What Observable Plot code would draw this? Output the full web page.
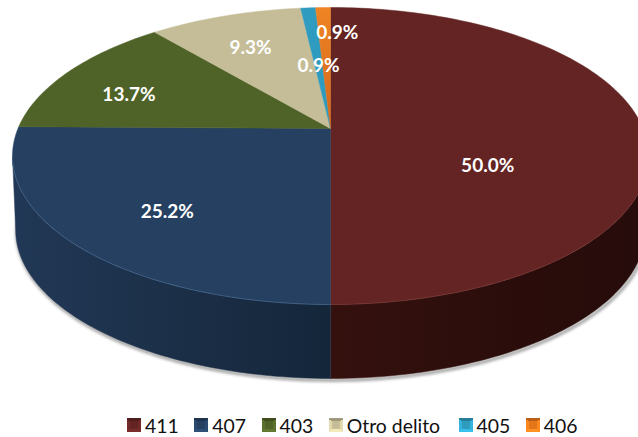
<!DOCTYPE html>
<html>
<head>
<meta charset="utf-8">
<script src="https://cdn.jsdelivr.net/npm/d3@7"></script>
<script src="https://cdn.jsdelivr.net/npm/@observablehq/plot@0.6"></script>
<style>
html,body{margin:0;padding:0;background:#fff}
#chart svg{display:block}
#legend{display:flex;height:32px;align-items:center;padding-left:127px;gap:15.5px;font:19.4px Lato,Carlito,sans-serif;color:#111;box-sizing:border-box;padding-top:8px;white-space:nowrap}
#legend .item{display:flex;align-items:center;gap:4px}
#legend .item:nth-child(4){margin-right:3px}
#legend .sw{width:14px;height:14px;display:block}
</style>
</head>
<body>
<div id="chart"></div>
<div id="legend"></div>
<script>
const categories = ["411", "407", "403", "Otro delito", "405", "406"];
const shares = [50.0, 25.2, 13.7, 9.3, 0.9, 0.9];
const labels = ["50.0%", "25.2%", "13.7%", "9.3%", "0.9%", "0.9%"];
const topColors = ["#632423", "#254061", "#4f6228", "#c4bd97", "#2f9bbf", "url(#orangeTop)"];
const rimColors = ["#7d3a38", "#4a6d96", "#667d3a", "#d6d0b0", "#55b4d2", "#f09a4a"];
const sideColors = ["url(#redSide)", "url(#blueSide)", "#38461c", "#8c8769", "#1f6c85", "#a64f08"];
const swatchColors = ["#632423", "#254061", "#4f6228", "#c4bd97", "#2f9bbf", "#e4761a"];

// Layout of the drawing (unit pie coordinates), separate from the data
const tilt = 0.1852, depth = 0.516, baseScale = 0.99;
const labelPlace = [[0.503, 0.258], [-0.522, 0.579], [-0.645, -0.237], [-0.256, -0.565], [0.022, -0.669], [-0.038, -0.439]];

// Perspective view of a circle: fraction of the pie -> unit coordinates
function rim(f, scale = 1, dy = 0) {
  const t = 2 * Math.PI * f / 100, u = Math.sin(t), v = -Math.cos(t), w = 1 - tilt * v;
  return {x: scale * u / w, y: v / w + dy};
}
// Silhouette limits of the disc: the wall is only visible between them
const edgeR = 100 * (Math.PI - Math.acos(tilt)) / (2 * Math.PI);
const edgeL = 100 - edgeR;

const arcs = [];
let acc = 0;
shares.forEach((s, i) => { arcs.push({i, a: acc, b: acc + s}); acc += s; });
const steps = s => Math.max(2, Math.ceil(s * 3));
const arcPts = (a, b, scale, dy) => d3.range(steps(b - a) + 1).map(k => rim(a + (b - a) * k / steps(b - a), scale, dy));

const topRows = [], sideRows = [], rimRows = [];
for (const {i, a, b} of arcs) {
  topRows.push({k: i, x: 0, y: 0}, ...arcPts(a, b).map(p => ({k: i, ...p})), {k: i, x: 0, y: 0});
  const a2 = Math.max(a, edgeR), b2 = Math.min(b, edgeL);
  if (b2 > a2) {
    sideRows.push(...arcPts(a2, b2).map(p => ({k: i, ...p})), ...arcPts(a2, b2, baseScale, depth).reverse().map(p => ({k: i, ...p})));
    rimRows.push(...arcPts(a2, b2).map(p => ({k: i, ...p})));
  }
}
const shadowRows = arcPts(edgeR - 4, edgeL + 4, baseScale, depth);
const labelRows = labels.map((t, i) => ({t, x: labelPlace[i][0], y: labelPlace[i][1]}));

const defs = () => {
  const s = d3.create("svg:defs");
  const grad = (id, x2, y2, stops) => {
    const g = s.append("linearGradient").attr("id", id).attr("x1", 0).attr("y1", 0).attr("x2", x2).attr("y2", y2);
    stops.forEach(([o, c]) => g.append("stop").attr("offset", o).attr("stop-color", c));
  };
  grad("orangeTop", 0, 1, [[0, "#ef8424"], [1, "#d3661a"]]);
  grad("blueSide", 1, 0, [[0, "#213856"], [0.45, "#1c3049"], [1, "#14263a"]]);
  grad("redSide", 1, 0, [[0, "#35110e"], [0.6, "#2a0d0b"], [1, "#260c0b"]]);
  return s.node();
};

const chart = Plot.plot({
  width: 638,
  height: 405,
  margin: 0,
  x: {domain: [-1, 1], range: [17.5, 642.5], axis: null},
  y: {domain: [-1, 1], range: [-15.4, 271.4], axis: null},
  marks: [
    defs,
    Plot.line(shadowRows, {x: d => d.x + 0.004, y: d => d.y + 0.012, stroke: "#555", strokeWidth: 3, strokeOpacity: 0.6, imageFilter: "blur(1.5px)"}),
    Plot.line(sideRows, {x: "x", y: "y", z: "k", fill: d => sideColors[d.k], stroke: d => sideColors[d.k], strokeWidth: 0.5, curve: "linear-closed"}),
    Plot.line(topRows, {x: "x", y: "y", z: "k", fill: d => topColors[d.k], stroke: d => topColors[d.k], strokeWidth: 0.5}),
    Plot.line(rimRows, {x: "x", y: "y", z: "k", stroke: d => rimColors[d.k], strokeWidth: 1, strokeOpacity: 0.6}),
    Plot.text(labelRows, {x: "x", y: "y", text: "t", fill: "white", fontSize: 19, fontWeight: "bold", fontFamily: "Lato, Carlito, sans-serif"})
  ]
});
document.getElementById("chart").appendChild(chart);

const legend = d3.select("#legend");
categories.forEach((c, i) => {
  const item = legend.append("span").attr("class", "item");
  const col = d3.color(swatchColors[i]);
  item.append("span").attr("class", "sw").style("background",
    `linear-gradient(${col},${col}) center/8px 8px no-repeat, conic-gradient(${col.darker(0.6)} 0 50deg, ${col.brighter(0.4)} 50deg 135deg, ${col.brighter(0.6)} 135deg 225deg, ${col.brighter(0.4)} 225deg 310deg, ${col.darker(0.6)} 310deg)`);
  item.append("span").text(c);
});
</script>
</body>
</html>
